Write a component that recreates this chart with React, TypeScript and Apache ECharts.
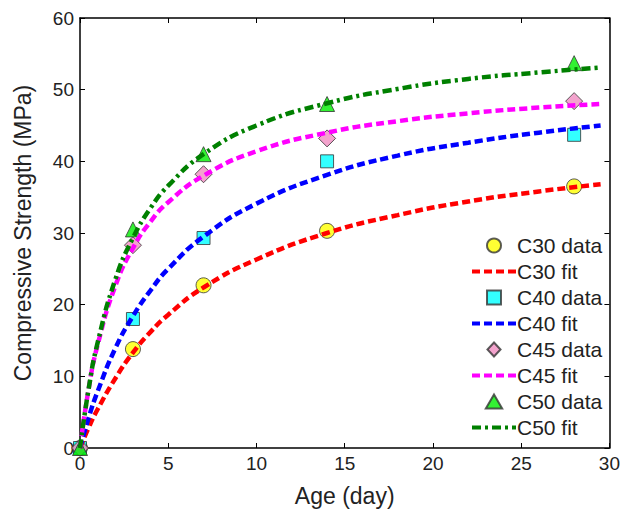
import React, { useEffect, useRef } from "react";
import * as echarts from "echarts";

// Measured data (Age in days, Strength in MPa)
const ages = [0, 3, 7, 14, 28];
const c30Data = [0, 13.8, 22.7, 30.3, 36.5];
const c40Data = [0, 18.0, 29.3, 40.0, 43.7];
const c45Data = [0, 28.3, 38.2, 43.2, 48.4];
const c50Data = [0, 30.5, 41.0, 48.0, 53.7];

// Fit curves
const fitAges = [0, 0.5, 1, 2, 3, 4, 5, 7, 10, 14, 18, 22, 26, 29.5];
const c30Fit = [0, 2.9, 5.4, 9.7, 13.3, 16.2, 18.6, 22.4, 26.3, 30.0, 32.5, 34.4, 35.8, 36.8];
const c40Fit = [0, 4.3, 7.9, 13.9, 18.4, 22.0, 25.0, 29.5, 34.1, 38.1, 40.8, 42.6, 44.0, 45.0];
const c45Fit = [0, 8.4, 14.4, 22.6, 27.9, 31.6, 34.3, 38.0, 41.4, 44.0, 45.6, 46.7, 47.5, 48.0];
const c50Fit = [0, 8.4, 14.7, 23.5, 29.3, 33.5, 36.6, 41.0, 45.0, 48.1, 50.1, 51.5, 52.4, 53.1];

const xTicks = [0, 5, 10, 15, 20, 25, 30];
const yTicks = [0, 10, 20, 30, 40, 50, 60];
const legendNames = ["C30 data", "C30 fit", "C40 data", "C40 fit", "C45 data", "C45 fit", "C50 data", "C50 fit"];

const pair = (xs: number[], ys: number[]) => xs.map((x, i) => [x, ys[i]]);

// Legend icon shapes (kept in proportion inside the legend's icon box)
const legendIcons: Record<string, string> = {
  "C30 data": "circle",
  "C40 data": "path://M0 0H10V10H0Z",
  "C45 data": "path://M7 0L14 7.5L7 15L0 7.5Z",
  "C50 data": "path://M7 0L14 12H0Z",
};

export default function App() {
  const ref = useRef<HTMLDivElement>(null);
  useEffect(() => {
    if (!ref.current) return;
    const chart = echarts.init(ref.current, null, { renderer: "svg" });
    const font = "Liberation Sans, Arial, sans-serif";
    const txt = "#222";
    const scatter = (name: string, d: number[], symbol: string, size: number, color: string) => ({
      name,
      type: "scatter",
      data: pair(ages, d),
      symbol,
      symbolSize: size,
      clip: false,
      itemStyle: { color, borderColor: "#333", borderWidth: 1 },
      z: 3,
    });
    const fit = (name: string, d: number[], color: string, dash: any) => ({
      name,
      type: "line",
      data: pair(fitAges, d),
      smooth: true,
      showSymbol: false,
      symbol: "none",
      lineStyle: { color, width: 4.5, type: dash },
      itemStyle: { color },
      z: 4,
    });
    const axisBase = {
      type: "value",
      axisLine: { show: true, onZero: false, lineStyle: { color: "#000", width: 1.5 } },
      axisTick: { show: true, inside: true, length: 5, lineStyle: { color: "#000" } },
      splitLine: { show: false },
    };
    chart.setOption({
      animation: false,
      backgroundColor: "#fff",
      textStyle: { fontFamily: font },
      grid: { left: 80, right: 11, top: 18, bottom: 63 },
      xAxis: [
        {
          ...axisBase,
          position: "bottom",
          min: 0,
          max: 30,
          interval: 5,
          name: "Age (day)",
          nameLocation: "middle",
          nameGap: 36,
          nameTextStyle: { fontSize: 23, color: txt, fontFamily: font },
          axisLabel: { fontSize: 19, color: txt, margin: 6, fontFamily: font, customValues: xTicks },
        },
        {
          ...axisBase,
          position: "top",
          min: 0,
          max: 30,
          interval: 5,
          axisLabel: { show: false },
        },
      ],
      yAxis: [
        {
          ...axisBase,
          position: "left",
          min: 0,
          max: 60,
          interval: 10,
          name: "Compressive Strength (MPa)",
          nameLocation: "middle",
          nameGap: 46,
          nameTextStyle: { fontSize: 23, color: txt, fontFamily: font },
          axisLabel: { fontSize: 19, color: txt, margin: 6, fontFamily: font, customValues: yTicks },
        },
        {
          ...axisBase,
          position: "right",
          min: 0,
          max: 60,
          interval: 10,
          axisLabel: { show: false },
        },
      ],
      legend: {
        orient: "vertical",
        left: 465,
        top: 230,
        itemWidth: 44,
        itemHeight: 14,
        itemGap: 5,
        symbolKeepAspect: true,
        lineStyle: { width: 4 },
        textStyle: { fontSize: 21, color: txt, fontFamily: font, padding: [0, 0, 0, -4] },
        data: legendNames.map((n) =>
          n.endsWith("fit")
            ? { name: n, itemStyle: { opacity: 0 } }
            : { name: n, icon: legendIcons[n] }
        ),
      },
      series: [
        scatter("C30 data", c30Data, "circle", 15, "#ffff00"),
        fit("C30 fit", c30Fit, "#ff0000", [8, 4]),
        scatter("C40 data", c40Data, "rect", 13, "#00ffff"),
        fit("C40 fit", c40Fit, "#0000ff", [8, 4]),
        scatter("C45 data", c45Data, "diamond", 17, "#f08cc0"),
        fit("C45 fit", c45Fit, "#ff00ff", [8, 4]),
        scatter("C50 data", c50Data, "triangle", 15, "#00ee00"),
        fit("C50 fit", c50Fit, "#008000", [9, 4, 3, 4]),
      ],
    });
    return () => chart.dispose();
  }, []);
  return <div ref={ref} style={{ width: 623, height: 512, position: "absolute", left: 0, top: 0 }} />;
}
